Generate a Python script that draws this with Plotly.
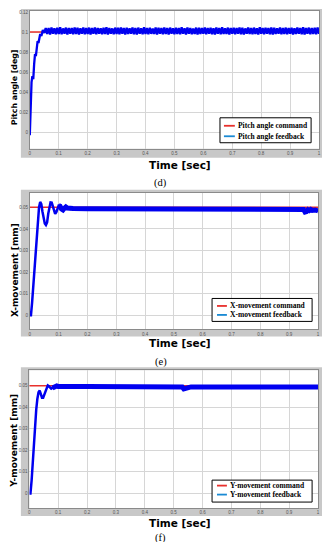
import numpy as np
import plotly.graph_objects as go

# page body has an 8px default margin: figure is sized/offset to compensate
OFF = 8
W, H = 332 - 2 * OFF, 550 - 2 * OFF

# ---------------- data ----------------
x_ticks = [0, 0.1, 0.2, 0.3, 0.4, 0.5, 0.6, 0.7, 0.8, 0.9, 1]

# (d) pitch angle
pitch_cmd_t = [0, 1]
pitch_cmd_v = [0.1, 0.1]
pitch_tr_t = [0, 0.003, 0.006, 0.009, 0.012, 0.015, 0.018, 0.021, 0.024, 0.027,
              0.030, 0.033, 0.036, 0.040, 0.045, 0.050, 0.055]
pitch_tr_v = [-0.003, 0.025, 0.050, 0.056, 0.053, 0.068, 0.078, 0.076, 0.086, 0.091,
              0.089, 0.095, 0.098, 0.096, 0.102, 0.099, 0.104]
pitch_ss_start, pitch_ss_step = 0.06, 0.005
pitch_ss_v = [
    0.0980, 0.1040, 0.0976, 0.1045, 0.0983, 0.1038, 0.0978, 0.1043, 0.0981, 0.1047,
    0.0977, 0.1036, 0.0984, 0.1044, 0.0975, 0.1041, 0.0982, 0.1039, 0.0979, 0.1046,
    0.0981, 0.1042, 0.0976, 0.1037, 0.0983, 0.1045, 0.0978, 0.1040, 0.0980, 0.1044,
    0.0975, 0.1039, 0.0982, 0.1046, 0.0977, 0.1041, 0.0984, 0.1038, 0.0979, 0.1043,
    0.0980, 0.1047, 0.0976, 0.1040, 0.0983, 0.1036, 0.0978, 0.1044, 0.0981, 0.1042,
    0.0977, 0.1045, 0.0982, 0.1039, 0.0975, 0.1043, 0.0980, 0.1037, 0.0984, 0.1046,
    0.0979, 0.1041, 0.0976, 0.1044, 0.0983, 0.1038, 0.0978, 0.1047, 0.0981, 0.1040,
    0.0977, 0.1043, 0.0982, 0.1036, 0.0980, 0.1045, 0.0975, 0.1042, 0.0983, 0.1039,
    0.0978, 0.1046, 0.0981, 0.1041, 0.0976, 0.1044, 0.0984, 0.1037, 0.0979, 0.1043,
    0.0980, 0.1040, 0.0977, 0.1047, 0.0982, 0.1038, 0.0976, 0.1045, 0.0983, 0.1041,
    0.0978, 0.1036, 0.0981, 0.1044, 0.0975, 0.1042, 0.0980, 0.1039, 0.0984, 0.1046,
    0.0977, 0.1040, 0.0982, 0.1043, 0.0979, 0.1037, 0.0976, 0.1045, 0.0983, 0.1041,
    0.0978, 0.1047, 0.0980, 0.1038, 0.0981, 0.1044, 0.0975, 0.1040, 0.0984, 0.1042,
    0.0977, 0.1039, 0.0982, 0.1046, 0.0979, 0.1043, 0.0976, 0.1036, 0.0983, 0.1045,
    0.0980, 0.1041, 0.0978, 0.1044, 0.0981, 0.1038, 0.0975, 0.1047, 0.0982, 0.1040,
    0.0977, 0.1043, 0.0984, 0.1039, 0.0979, 0.1045, 0.0976, 0.1042, 0.0980, 0.1037,
    0.0983, 0.1046, 0.0978, 0.1041, 0.0981, 0.1044, 0.0977, 0.1040, 0.0982, 0.1043,
    0.0975, 0.1038, 0.0980, 0.1045, 0.0984, 0.1041, 0.0979, 0.1047, 0.0976, 0.1039,
    0.0983, 0.1044, 0.0978, 0.1040, 0.0981, 0.1042, 0.0977, 0.1046, 0.0982, 0.1039,
]
pitch_ss_t = [round(pitch_ss_start + i * pitch_ss_step, 4) for i in range(len(pitch_ss_v))]

# (e) X-movement
x_cmd_t = [0, 1]
x_cmd_v = [0.05, 0.05]
x_fb_t = [0, 0.004, 0.008, 0.012, 0.016, 0.020, 0.024, 0.028, 0.032, 0.036,
          0.040, 0.044, 0.048, 0.052, 0.056, 0.060, 0.064, 0.068, 0.072, 0.076,
          0.080, 0.084, 0.088, 0.092, 0.096, 0.100, 0.105, 0.110, 0.115, 0.120,
          0.125, 0.130, 0.140, 0.150, 0.20, 0.30, 0.40, 0.50, 0.60, 0.70,
          0.80, 0.90, 0.94, 0.95, 0.955, 0.96, 0.965, 0.97, 0.975, 0.98, 0.99, 1.0]
x_fb_v = [0, 0.0, 0.006, 0.014, 0.023, 0.031, 0.038, 0.045, 0.050, 0.0525,
          0.0515, 0.048, 0.045, 0.0425, 0.0418, 0.043, 0.047, 0.0505, 0.0523, 0.0522,
          0.050, 0.0478, 0.047, 0.0478, 0.0495, 0.0508, 0.0505, 0.0492, 0.0488, 0.0496,
          0.0502, 0.0497, 0.0493, 0.0495, 0.0494, 0.0494, 0.0494, 0.0494, 0.0494, 0.0494,
          0.0494, 0.0494, 0.0494, 0.0490, 0.0478, 0.0480, 0.0489, 0.0485, 0.0490, 0.0486,
          0.0488, 0.0484]

# (f) Y-movement
y_cmd_t = [0, 1]
y_cmd_v = [0.05, 0.05]
y_fb_t = [0, 0.004, 0.008, 0.012, 0.016, 0.020, 0.024, 0.028, 0.032, 0.036,
          0.040, 0.044, 0.048, 0.052, 0.056, 0.060, 0.064, 0.068, 0.072, 0.076,
          0.080, 0.085, 0.090, 0.095, 0.100, 0.11, 0.12, 0.15, 0.20, 0.30,
          0.40, 0.50, 0.52, 0.53, 0.535, 0.54, 0.545, 0.55, 0.56, 0.60,
          0.70, 0.80, 0.90, 1.0]
y_fb_v = [0, 0.0, 0.006, 0.015, 0.024, 0.032, 0.039, 0.044, 0.047, 0.0478,
          0.0465, 0.0445, 0.0445, 0.046, 0.048, 0.0495, 0.0502, 0.0498, 0.0490, 0.0487,
          0.0490, 0.0494, 0.0498, 0.0499, 0.0497, 0.0496, 0.0497, 0.0497, 0.0497, 0.0497,
          0.0497, 0.0497, 0.0497, 0.0494, 0.0486, 0.0488, 0.0492, 0.0495, 0.0495, 0.0495,
          0.0495, 0.0495, 0.0495, 0.0495]

# ---------------- layout helpers (page pixel -> paper) ----------------
def px(x):
    return (x - OFF) / W

def py(y):
    return 1 - (y - OFF) / H

RED = "#e8302c"
BLUE = "#0000f0"
LEG_BLUE = "#1a8ad4"
GRAY_BOX = "#c8c8c8"
TITLE_FONT = "DejaVu Sans"

panels = [
    dict(plot=(29, 321, 10, 148), box=(20, 324, 8, 157), yr=[-0.0165, 0.121], dtick=0.02,
         ytitle="Pitch angle [deg]", ytitle_y=86, ytitle_size=7.8, xtitle_y=164,
         cap="(d)", cap_y=182,
         leg=(221, 313, 117, 142), leg_lines=(125, 135.5), leg_x=(225, 236),
         names=("Pitch angle command", "Pitch angle feedback")),
    dict(plot=(29, 320, 192, 329), box=(20, 324, 189, 336), yr=[-0.0065, 0.0568], dtick=0.01,
         ytitle="X-movement [mm]", ytitle_y=269, ytitle_size=9, xtitle_y=343,
         cap="(e)", cap_y=362,
         leg=(213, 314, 298, 321), leg_lines=(305.5, 314.5), leg_x=(218, 228),
         names=("X-movement command", "X-movement feedback")),
    dict(plot=(28.5, 320, 370, 508), box=(20, 324, 367, 516), yr=[-0.0068, 0.0572], dtick=0.01,
         ytitle="Y-movement [mm]", ytitle_y=440, ytitle_size=9, xtitle_y=523,
         cap="(f)", cap_y=537.5,
         leg=(213, 314, 480, 502), leg_lines=(485.5, 494.5), leg_x=(218, 228),
         names=("Y-movement command", "Y-movement feedback")),
]

fig = go.Figure()
shapes = []
annotations = []

series = [
    [(pitch_cmd_t, pitch_cmd_v, RED, 1.5),
     (pitch_tr_t + pitch_ss_t, pitch_tr_v + pitch_ss_v, BLUE, 2.3)],
    [(x_cmd_t, x_cmd_v, RED, 1.5),
     (x_fb_t, x_fb_v, BLUE, 2.5),
     ([t for t in x_fb_t if t >= 0.1], [v for t, v in zip(x_fb_t, x_fb_v) if t >= 0.1], BLUE, 5)],
    [(y_cmd_t, y_cmd_v, RED, 1.5),
     (y_fb_t, y_fb_v, BLUE, 2.5),
     ([t for t in y_fb_t if t >= 0.08], [v for t, v in zip(y_fb_t, y_fb_v) if t >= 0.08], BLUE, 5)],
]

for i, p in enumerate(panels):
    n = "" if i == 0 else str(i + 1)
    x0, x1, y0, y1 = p["plot"]
    bx0, bx1, by0, by1 = p["box"]
    shapes.append(dict(type="rect", xref="paper", yref="paper", layer="below",
                       x0=px(bx0), x1=px(bx1), y0=py(by1), y1=py(by0),
                       fillcolor=GRAY_BOX, line=dict(width=0)))
    shapes.append(dict(type="rect", xref="paper", yref="paper", layer="below",
                       x0=px(x0), x1=px(x1), y0=py(y1), y1=py(y0),
                       fillcolor="white", line=dict(width=0)))
    fig.update_layout(**{
        f"xaxis{n}": dict(domain=[px(x0), px(x1)], anchor=f"y{n}", range=[0, 1],
                          tickvals=x_ticks, ticktext=[f"{t:g}" for t in x_ticks],
                          tickfont=dict(size=4.5, color="#555", family="Arial"),
                          showgrid=True, gridcolor="#d6d6d6", gridwidth=1,
                          zeroline=False, showline=True, mirror=True,
                          linecolor="#8a8a8a", linewidth=1, ticks=""),
        f"yaxis{n}": dict(domain=[py(y1), py(y0)], anchor=f"x{n}", range=p["yr"],
                          dtick=p["dtick"], tick0=0,
                          tickfont=dict(size=4.5, color="#555", family="Arial"),
                          showgrid=True, gridcolor="#d6d6d6", gridwidth=1,
                          zeroline=False, showline=True, mirror=True,
                          linecolor="#8a8a8a", linewidth=1, ticks=""),
    })
    for (tx, ty, col, wd) in series[i]:
        fig.add_trace(go.Scatter(x=tx, y=ty, mode="lines", line=dict(color=col, width=wd),
                                 xaxis=f"x{n}", yaxis=f"y{n}", showlegend=False,
                                 hoverinfo="skip"))
    annotations.append(dict(text="<b>" + p["ytitle"] + "</b>", xref="paper", yref="paper",
                            x=px(13.5), y=py(p["ytitle_y"]), textangle=-90, showarrow=False,
                            xanchor="center", yanchor="middle",
                            font=dict(size=p["ytitle_size"], color="black", family=TITLE_FONT)))
    annotations.append(dict(text="<b>Time [sec]</b>", xref="paper", yref="paper",
                            x=px(181), y=py(p["xtitle_y"]), showarrow=False,
                            xanchor="center", yanchor="middle",
                            font=dict(size=10.5, color="black", family=TITLE_FONT)))
    annotations.append(dict(text=p["cap"], xref="paper", yref="paper",
                            x=px(161), y=py(p["cap_y"]), showarrow=False,
                            xanchor="center", yanchor="middle",
                            font=dict(size=10.5, color="black", family="Liberation Serif")))
    lx0, lx1, ly0, ly1 = p["leg"]
    shapes.append(dict(type="rect", xref="paper", yref="paper",
                       x0=px(lx0), x1=px(lx1), y0=py(ly1), y1=py(ly0),
                       fillcolor="white", line=dict(color="black", width=1)))
    for yy, col, name in zip(p["leg_lines"], (RED, LEG_BLUE), p["names"]):
        shapes.append(dict(type="line", xref="paper", yref="paper",
                           x0=px(p["leg_x"][0]), x1=px(p["leg_x"][1]), y0=py(yy), y1=py(yy),
                           line=dict(color=col, width=1.8)))
        annotations.append(dict(text="<b>" + name + "</b>", xref="paper", yref="paper",
                                x=px(p["leg_x"][1] + 1), y=py(yy), showarrow=False,
                                xanchor="left", yanchor="middle",
                                font=dict(size=7.5, color="black", family="Liberation Serif")))

fig.update_layout(width=W, height=H, margin=dict(l=0, r=0, t=0, b=0),
                  paper_bgcolor="white", plot_bgcolor="rgba(0,0,0,0)",
                  shapes=shapes, annotations=annotations, showlegend=False)

fig.write_html("out.html")
